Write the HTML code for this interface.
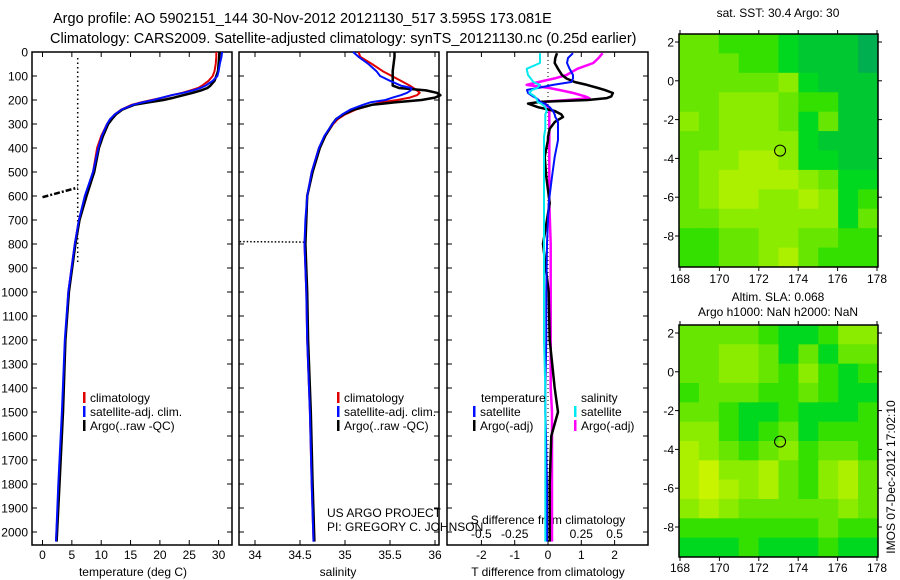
<!DOCTYPE html>
<html><head><meta charset="utf-8">
<style>
body{margin:0;background:#fff;}
svg{display:block;font-family:"Liberation Sans",sans-serif;}
</style></head>
<body>
<svg id="c" width="900" height="580" xmlns="http://www.w3.org/2000/svg">
<text x="53" y="23" font-size="14.5">Argo profile: AO 5902151_144 30-Nov-2012 20121130_517 3.595S 173.081E</text>
<text x="50" y="43" font-size="14.5">Climatology: CARS2009. Satellite-adjusted climatology: synTS_20121130.nc (0.25d earlier)</text>
<text x="778" y="17" font-size="12" text-anchor="middle">sat. SST: 30.4 Argo: 30</text>
<text x="778" y="301" font-size="12" text-anchor="middle">Altim. SLA: 0.068</text>
<text x="778" y="316" font-size="12" text-anchor="middle">Argo h1000: NaN h2000: NaN</text>
<text transform="translate(895,477) rotate(-90)" font-size="12" text-anchor="middle">IMOS 07-Dec-2012 17:02:10</text>
<g id="g"></g>
</svg>
<script>
// ---------- data ----------
const depthTicks=[0,100,200,300,400,500,600,700,800,900,1000,1100,1200,1300,1400,1500,1600,1700,1800,1900,2000];
const tempTicks=[0,5,10,15,20,25,30];
const salTicks=[34,34.5,35,35.5,36];
const tdTicks=[-2,-1,0,1,2];
const sdTicks=[-0.5,-0.25,0,0.25,0.5];
const sdTickLabels=["-0.5","-0.25","0","0.25","0.5"];
const lonTicks=[168,170,172,174,176,178];
const latTicks=[2,0,-2,-4,-6,-8];

const profDepth=[0,20,50,80,100,120,140,150,160,170,180,190,200,210,220,240,260,280,300,350,400,500,600,700,800,1000,1200,1500,1800,2040];
const tempClim=[29.6,29.6,29.5,29.3,29.0,28.3,27.2,26.5,25.2,23.8,22.0,20.5,18.6,16.8,15.2,13.4,12.3,11.6,11.0,10.0,9.3,8.6,7.3,6.2,5.5,4.4,3.9,3.4,2.8,2.3];
const tempSat=[30.6,30.5,30.2,30.0,29.8,29.0,27.8,26.9,25.6,24.0,22.0,20.4,18.9,17.0,15.4,13.5,12.3,11.5,11.0,10.1,9.5,8.6,7.2,6.2,5.5,4.4,3.8,3.3,2.7,2.3];
const tempArgo=[30.2,30.1,30.0,29.9,29.6,29.3,28.6,28.1,27.0,25.6,24.0,22.4,20.6,18.0,15.6,13.6,12.5,11.8,11.2,10.3,9.6,8.8,7.5,6.3,5.6,4.5,3.9,3.5,2.9,2.4];
const salClim=[35.15,35.17,35.3,35.42,35.52,35.62,35.72,35.76,35.8,35.83,35.8,35.72,35.58,35.4,35.3,35.12,35.0,34.92,34.87,34.78,34.71,34.63,34.58,34.57,34.55,34.57,34.58,34.61,34.63,34.65];
const salSat=[35.09,35.15,35.26,35.35,35.39,35.5,35.62,35.74,35.73,35.69,35.62,35.53,35.45,35.28,35.2,35.06,34.97,34.9,34.86,34.77,34.71,34.63,34.58,34.56,34.55,34.57,34.58,34.61,34.63,34.65];
const salArgo=[35.55,35.55,35.54,35.53,35.53,35.53,35.53,35.6,35.9,36.02,36.06,36.0,35.85,35.55,35.3,35.1,34.98,34.9,34.86,34.78,34.72,34.64,34.58,34.57,34.56,34.58,34.59,34.62,34.64,34.66];

const diffDepth=[5,25,46,70,96,110,125,137,150,158,171,185,192,200,208,215,230,246,260,271,283,292,320,354,367,437,520,630,800,1000,1200,1400,1500,1600,1800,2040];
const dTsat=[0.75,0.6,0.57,0.65,0.75,0.75,0.7,0.15,-0.3,-0.63,-0.6,-0.45,-0.35,-0.28,-0.24,-0.1,0.05,0.15,0.2,0.22,0.27,0.3,0.3,0.3,0.3,0.2,0.12,0.02,-0.03,-0.05,-0.05,-0.08,-0.08,-0.06,-0.03,-0.03];
const dTargo=[0.27,0.22,0.2,0.3,0.42,0.55,0.8,1.17,1.5,1.7,1.95,1.9,1.77,1.2,-0.24,-0.6,-0.3,0.2,0.4,0.45,0.3,0.2,0.05,0,0,-0.1,-0.05,0.05,-0.15,0.02,0.05,0.2,0.3,0.1,0.05,0.05];
const dSsat=[-0.06,-0.06,-0.06,-0.16,-0.15,-0.13,-0.11,-0.06,-0.08,-0.12,-0.14,-0.1,-0.09,-0.08,-0.08,-0.05,-0.02,-0.01,-0.02,-0.02,-0.02,-0.02,-0.02,-0.03,-0.03,-0.03,-0.03,-0.03,-0.03,-0.03,-0.03,-0.02,-0.02,-0.02,-0.02,-0.02];
const dSargo=[0.41,0.38,0.34,0.22,0.14,0.05,-0.07,-0.16,0.01,0.08,0.19,0.28,0.31,0.15,-0.05,-0.02,0,0.01,0.01,0.01,0.01,0.01,0.01,0.01,0.01,0.01,0.01,0.01,0.02,0.02,0.02,0.02,0.03,0.03,0.03,0.03];

const sstGrid=[
[4,4,3,3,3,2,1,1,1,0],
[4,4,4,3,3,2,1,1,1,0],
[4,4,4,4,4,5,2,1,1,1],
[4,4,5,5,5,4,3,3,1,1],
[5,4,5,5,5,4,2,4,1,1],
[4,4,5,5,5,5,2,1,1,1],
[4,5,5,6,6,5,2,2,1,1],
[4,5,6,6,6,6,5,4,2,2],
[4,5,6,6,5,5,6,5,2,3],
[4,4,5,5,5,5,5,5,2,4],
[3,3,4,4,5,5,4,4,3,3],
[3,3,4,4,5,6,4,3,3,3]];
const slaGrid=[
[4,4,4,4,3,2,2,3,5,5],
[4,4,5,5,4,2,4,2,4,4],
[4,4,5,5,4,3,5,3,2,3],
[3,4,4,4,3,3,4,3,2,2],
[4,4,3,2,2,3,2,2,2,3],
[5,5,3,2,3,4,2,3,3,3],
[6,5,4,3,4,5,3,4,4,3],
[6,7,5,5,6,4,3,5,6,4],
[6,7,6,5,6,4,3,5,6,4],
[5,6,5,4,4,4,4,4,5,4],
[3,3,3,3,3,3,3,4,3,3],
[2,2,2,3,2,2,2,3,2,2]];
const argoLon=173.08, argoLat=-3.6;

// ---------- helpers ----------
const NS="http://www.w3.org/2000/svg";
const G=document.getElementById('g');
function mk(tag,attrs,parent){const e=document.createElementNS(NS,tag);for(const k in attrs)e.setAttribute(k,attrs[k]);(parent||G).appendChild(e);return e;}
const top0=52, pxPer100=24;
const yD=d=>top0+d*pxPer100/100;
const xT=t=>42.5+t*5.87;
const xS=s=>255+(s-34)*90;
const xdT=v=>548+v*33.3;
const xdS=v=>548+v*133.2;
const palette=["#00b050","#00c830","#00d820","#33e000","#66e600","#8cec00","#acf000","#c8f400"];

function frame(x0,x1,y0,y1,name){
  const r=mk('rect',{x:x0,y:y0,width:x1-x0,height:y1-y0,fill:'none',stroke:'#000','stroke-width':1.5});
  
  
}
function vLine(xs,ys,color,w,name,dash){
  let d='';xs.forEach((x,i)=>{d+=(i?'L':'M')+x.toFixed(1)+' '+ys[i].toFixed(1);});
  const p=mk('path',{d:d,fill:'none',stroke:color,'stroke-width':w,'stroke-linejoin':'round'});
  if(dash)p.setAttribute('stroke-dasharray',dash);
  
  
}
function txt(x,y,s,anchor,size,name){
  const t=mk('text',{x:x,y:y,'font-size':size||12,'text-anchor':anchor||'start'});
  t.textContent=s;
  
  
  return t;
}
function ticksX(vals,fx,y0,y1,lab,labY,name,labels){
  vals.forEach((v,i)=>{const x=fx(v);
    mk('line',{x1:x,x2:x,y1:y1,y2:y1-5,stroke:'#000'});
    mk('line',{x1:x,x2:x,y1:y0,y2:y0+5,stroke:'#000'});
    if(lab)txt(x,labY,labels?labels[i]:String(v),'middle',12,name);
  });
}
const B=545;
// ---------- panel 1 temperature ----------
frame(32,232,top0,B,'temperature-panel');
depthTicks.forEach(d=>{const y=yD(d);
  mk('line',{x1:32,x2:37,y1:y,y2:y,stroke:'#000'});
  mk('line',{x1:232,x2:227,y1:y,y2:y,stroke:'#000'});
  mk('line',{x1:239,x2:244,y1:y,y2:y,stroke:'#000'});
  mk('line',{x1:439,x2:434,y1:y,y2:y,stroke:'#000'});
  mk('line',{x1:447,x2:452,y1:y,y2:y,stroke:'#000'});
  mk('line',{x1:648,x2:643,y1:y,y2:y,stroke:'#000'});
  txt(28,y+4.5,String(d),'end',12,'depth-tick-label');
});
ticksX(tempTicks,xT,top0,B,true,559,'temperature-tick-label');
txt(133,576,'temperature (deg C)','middle',12,'temperature-axis-title');
vLine([xT(6),xT(6)],[yD(25),yD(880)],'#000',1.5,'argo-qc-dotted-line','1.5,3');
vLine([xT(0),xT(6)],[yD(605),yD(565)],'#000',2.5,'argo-raw-dash-line','6,2,2,2');
vLine(tempClim.map(xT),profDepth.map(yD),'#e00000',2,'temp-climatology-line');
vLine(tempArgo.map(xT),profDepth.map(yD),'#000',2.5,'temp-argo-line');
vLine(tempSat.map(xT),profDepth.map(yD),'#0010ff',2,'temp-satellite-line');
// ---------- panel 2 salinity ----------
frame(239,439,top0,B,'salinity-panel');
ticksX(salTicks,xS,top0,B,true,559,'salinity-tick-label',["34","34.5","35","35.5","36"]);
txt(338,576,'salinity','middle',12,'salinity-axis-title');
vLine([xS(33.83),xS(34.55)],[yD(790),yD(792)],'#000',1.5,'salinity-dotted-line','1.5,2');
vLine(salClim.map(xS),profDepth.map(yD),'#e00000',2,'sal-climatology-line');
vLine(salArgo.map(xS),profDepth.map(yD),'#000',2.5,'sal-argo-line');
vLine(salSat.map(xS),profDepth.map(yD),'#0010ff',2,'sal-satellite-line');
// ---------- panel 3 differences ----------
frame(447,648,top0,B,'difference-panel');
ticksX(tdTicks,xdT,top0,B,true,559,'t-diff-tick-label');
txt(548,540,'','middle',12,'spacer');
sdTicks.forEach((v,i)=>txt(xdS(v),538,sdTickLabels[i],'middle',12,'s-diff-tick-label'));
txt(548,524,'S difference from climatology','middle',12,'s-diff-axis-title');
txt(548,576,'T difference from climatology','middle',12,'t-diff-axis-title');
vLine([548,548],[yD(0),yD(2050)],'#000',1,'zero-dotted-line','1,3');
vLine(dSargo.map(xdS),diffDepth.map(yD),'#ff00ff',2.5,'s-argo-diff-line');
vLine(dTargo.map(xdT),diffDepth.map(yD),'#000',2.5,'t-argo-diff-line');
vLine(dTsat.map(xdT),diffDepth.map(yD),'#0010ff',2,'t-satellite-diff-line');
vLine(dSsat.map(xdS),diffDepth.map(yD),'#00e8f0',2,'s-satellite-diff-line');
// ---------- legends ----------
function leg(x,y,color,label,name){
  const r=mk('rect',{x:x,y:y-10,width:2.5,height:11,fill:color});
  
  
  txt(x+7,y,label,'start',12,name);
}
[[83,'#e00000','climatology'],[83,'#0010ff','satellite-adj. clim.'],[83,'#000','Argo(..raw -QC)']].forEach((a,i)=>leg(a[0],402+i*14,a[1],a[2],'temp-legend-entry'));
[[337,'#e00000','climatology'],[337,'#0010ff','satellite-adj. clim.'],[337,'#000','Argo(..raw -QC)']].forEach((a,i)=>leg(a[0],402+i*14,a[1],a[2],'sal-legend-entry'));
txt(481,402,'temperature','start',12,'diff-legend-temperature-header');
txt(581,402,'salinity','start',12,'diff-legend-salinity-header');
leg(473,416,'#0010ff','satellite','t-sat-legend-entry');
leg(473,430,'#000','Argo(-adj)','t-argo-legend-entry');
leg(574,416,'#00e8f0','satellite','s-sat-legend-entry');
leg(574,430,'#ff00ff','Argo(-adj)','s-argo-legend-entry');
txt(327,517,'US ARGO PROJECT','start',12,'project-label');
txt(327,531,'PI: GREGORY C. JOHNSON','start',12,'pi-label');
// ---------- maps ----------
function map(y0,y1,grid,name,labY){
  const x0=679,x1=878;
  const lonX=l=>680+(l-168)*19.7;
  const latY=a=>y0+8+(2-a)*19.4;
  const rows=grid.length, cols=grid[0].length;
  const cw=(x1-x0)/cols, ch=(y1-y0)/rows;
  grid.forEach((row,r)=>row.forEach((v,c)=>{
    const e=mk('rect',{x:x0+c*cw,y:y0+r*ch,width:cw+0.5,height:ch+0.5,fill:palette[v]});
    
    
  }));
  frame(x0,x1,y0,y1,name+'-frame');
  lonTicks.forEach(l=>{const x=lonX(l);
    mk('line',{x1:x,x2:x,y1:y1,y2:y1+4,stroke:'#000'});
    mk('line',{x1:x,x2:x,y1:y0,y2:y0-4,stroke:'#000'});
    txt(x,labY,String(l),'middle',12,name+'-lon-label');});
  latTicks.forEach(a=>{const y=latY(a);
    mk('line',{x1:x0,x2:x0-4,y1:y,y2:y,stroke:'#000'});
    mk('line',{x1:x1,x2:x1+4,y1:y,y2:y,stroke:'#000'});
    txt(674,y+4.5,String(a),'end',12,name+'-lat-label');});
  const c=mk('circle',{cx:lonX(argoLon),cy:latY(argoLat),r:5.5,fill:'none',stroke:'#000','stroke-width':1});
  
  
}
map(34,267,sstGrid,'sst-map',283);
map(325,557,slaGrid,'sla-map',572);
</script>
</body></html>
